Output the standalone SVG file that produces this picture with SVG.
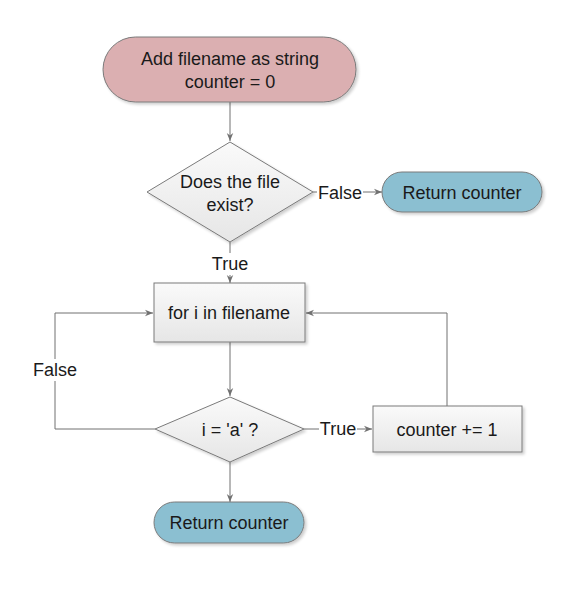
<svg xmlns="http://www.w3.org/2000/svg" width="570" height="612" viewBox="0 0 570 612">
<defs>
<linearGradient id="g" x1="0" y1="0" x2="0" y2="1">
<stop offset="0" stop-color="#fafafa"/>
<stop offset="1" stop-color="#e6e6e6"/>
</linearGradient>
<marker id="a" viewBox="0 0 10 10" refX="10" refY="5" markerWidth="8" markerHeight="8" markerUnits="userSpaceOnUse" orient="auto">
<path d="M0,1 L10,5 L0,9 L3,5 Z" fill="#707070"/>
</marker>
<filter id="s" x="-10%" y="-10%" width="130%" height="130%">
<feGaussianBlur in="SourceAlpha" stdDeviation="1.5"/>
<feOffset dx="2" dy="2"/>
<feComponentTransfer><feFuncA type="linear" slope="0.2"/></feComponentTransfer>
<feMerge><feMergeNode/><feMergeNode in="SourceGraphic"/></feMerge>
</filter>
</defs>
<style>
text{font-family:"Liberation Sans",Arial,sans-serif;font-size:18px;fill:#1a1a1a;text-anchor:middle}
.n{stroke:#7a7a7a;stroke-width:1;filter:url(#s)}
.c{fill:none;stroke:#707070;stroke-width:1}
.lb{fill:#fff}
</style>
<rect width="570" height="612" fill="#fff"/>
<g id="connectors">
<path class="c" d="M230,102 V141" marker-end="url(#a)"/>
<path class="c" d="M313,192 H382" marker-end="url(#a)"/>
<path class="c" d="M230,242 V283" marker-end="url(#a)"/>
<path class="c" d="M230,342 V396" marker-end="url(#a)"/>
<path class="c" d="M155,429 H55 V313 H153" marker-end="url(#a)"/>
<path class="c" d="M304,429 H372" marker-end="url(#a)"/>
<path class="c" d="M447,406 V313 H306" marker-end="url(#a)"/>
<path class="c" d="M230,462 V502" marker-end="url(#a)"/>
<rect class="lb" x="317" y="182" width="46" height="22"/>
<text x="340" y="199">False</text>
<rect class="lb" x="211" y="253" width="38" height="22"/>
<text x="230" y="270">True</text>
<rect class="lb" x="32" y="359" width="46" height="22"/>
<text x="55" y="376">False</text>
<rect class="lb" x="319" y="418" width="38" height="22"/>
<text x="338" y="435">True</text>
</g>
<g id="start">
<rect class="n" x="103" y="37" width="253" height="65" rx="32.5" fill="#dbafb1"/>
<text x="230" y="65">Add filename as string</text>
<text x="230" y="88">counter = 0</text>
</g>
<g id="exists">
<path class="n" d="M230,142 L313,192 L230,242 L147,192 Z" fill="url(#g)"/>
<text x="230" y="188">Does the file</text>
<text x="230" y="211">exist?</text>
</g>
<g id="return1">
<rect class="n" x="382" y="172" width="160" height="40" rx="20" fill="#8bbfd1"/>
<text x="462" y="199">Return counter</text>
</g>
<g id="loop">
<rect class="n" x="154" y="283" width="151" height="59" fill="url(#g)"/>
<text x="229" y="319">for i in filename</text>
</g>
<g id="check">
<path class="n" d="M230,397 L304,429 L230,462 L155,429 Z" fill="url(#g)"/>
<text x="230" y="436">i = 'a' ?</text>
</g>
<g id="increment">
<rect class="n" x="373" y="406" width="149" height="46" fill="url(#g)"/>
<text x="447" y="436">counter += 1</text>
</g>
<g id="return2">
<rect class="n" x="154" y="502" width="150" height="41" rx="20.5" fill="#8bbfd1"/>
<text x="229" y="529">Return counter</text>
</g>
</svg>
